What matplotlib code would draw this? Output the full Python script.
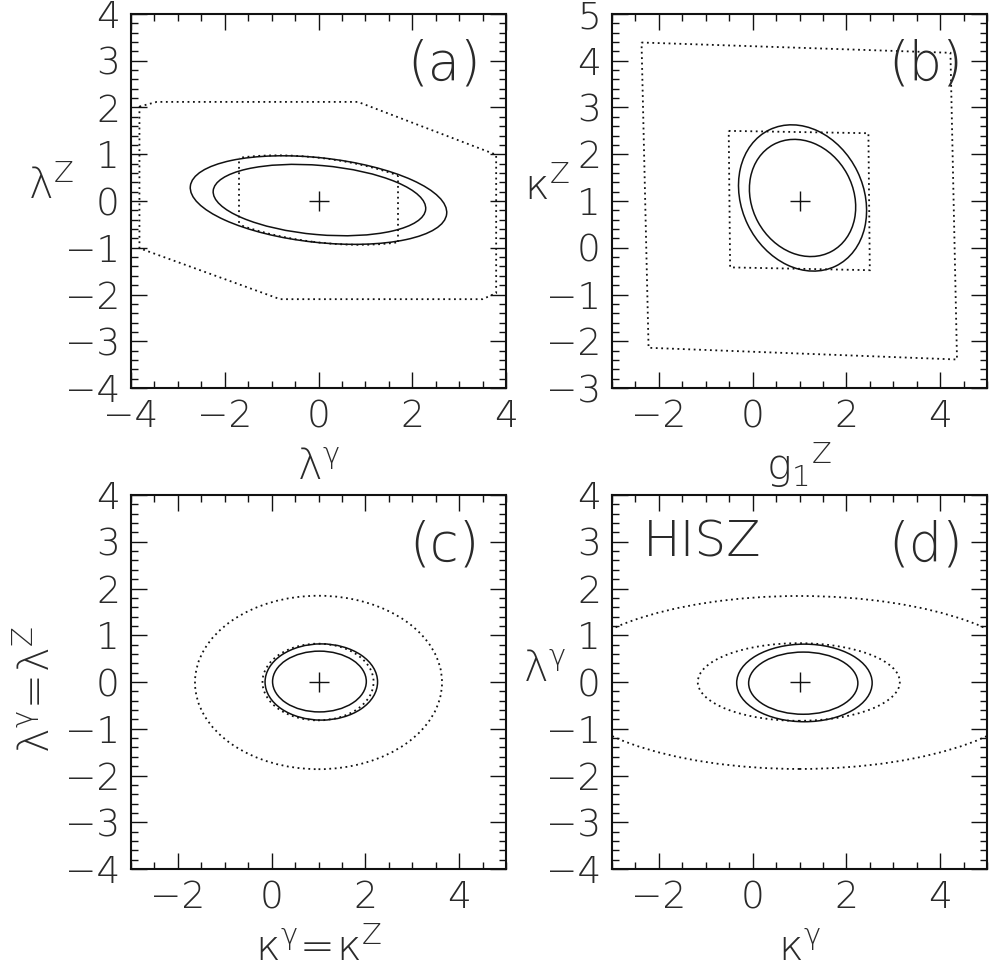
#!/usr/bin/env python3
"""Four-panel contour plot of anomalous coupling limits, panels (a)-(d)."""

import matplotlib

matplotlib.use("Agg")
import matplotlib.pyplot as plt
from matplotlib.patches import Ellipse, Polygon, Rectangle
from matplotlib.ticker import MultipleLocator

plt.rcParams["font.family"] = ["DejaVu Sans"]
plt.rcParams["font.weight"] = 200
plt.rcParams["mathtext.fontset"] = "custom"
plt.rcParams["mathtext.rm"] = "DejaVu Sans:ultralight"
plt.rcParams["mathtext.it"] = "DejaVu Sans:ultralight"
plt.rcParams["mathtext.sf"] = "DejaVu Sans:ultralight"

# axis ranges per panel
panel_names = ["(a)", "(b)", "(c)", "(d)"]
x_limits = [(-4, 4), (-3, 5), (-3, 5), (-3, 5)]
y_limits = [(-4, 4), (-3, 5), (-4, 4), (-4, 4)]
x_labels = [r"$\mathrm{\lambda^{\gamma}}$", r"$\mathrm{g_1{}^{Z}}$",
            r"$\mathrm{\kappa^{\gamma}\!=\!\kappa^{Z}}$", r"$\mathrm{\kappa^{\gamma}}$"]
y_labels = [r"$\mathrm{\lambda^{Z}}$", r"$\mathrm{\kappa^{Z}}$",
            r"$\mathrm{\lambda^{\gamma}\!=\!\lambda^{Z}}$", r"$\mathrm{\lambda^{\gamma}}$"]

# best-fit points
best_x = [0.0, 1.0, 1.0, 1.0]
best_y = [0.0, 1.0, 0.0, 0.0]

# solid contours: (cx, cy, width, height, angle)
solid_a = [(0.0, 0.02, 5.50, 1.81, -6.2), (0.02, 0.02, 4.55, 1.48, -5.0)]
solid_b = [(1.065, 1.065, 2.60, 3.24, 25.8), (1.065, 1.065, 2.16, 2.60, 28.5)]
solid_c = [(1.06, 0.0, 2.40, 1.63, 0.0), (1.02, 0.01, 2.00, 1.30, 0.0)]
solid_d = [(1.105, -0.02, 2.89, 1.66, 0.0), (1.08, -0.025, 2.33, 1.33, 0.0)]

# dotted contours
dotted_c = [(0.99, 0.0, 2.37, 1.64, 0.0), (1.0, -0.01, 5.27, 3.71, 0.0)]
dotted_d = [(0.985, 0.0, 4.31, 1.66, 0.0), (1.0, -0.01, 10.2, 3.70, 0.0)]

# panel (a): inner dotted region = ellipse cut at the lambda^gamma limits
dotted_a_ellipse = (0.0, 0.02, 5.55, 1.80, -7.1)
dotted_a_cut = (-1.70, 1.69)
# panel (a): outer dotted region
outer_a_x = [-3.82, -3.45, 0.84, 3.79, 3.79, 3.50, -0.82, -3.82]
outer_a_y = [2.02, 2.12, 2.12, 0.99, -1.97, -2.10, -2.10, -1.01]
# panel (b): dotted boxes
outer_b_x = [-2.37, 4.22, 4.36, -2.22]
outer_b_y = [4.39, 4.17, -2.39, -2.14]
inner_b_x = [-0.51, 2.47, 2.50, -0.48]
inner_b_y = [2.50, 2.45, -0.48, -0.42]

DOT = (0, (1.0, 2.0))
INK = "#111111"
TXT = "#2a2a2a"

fig = plt.figure(figsize=(9.9, 9.72), dpi=100)
W, H = 990.0, 972.0
boxes = [(131, 14), (612, 14), (131, 495), (612, 495)]
axes = []
for (left, top) in boxes:
    ax = fig.add_axes([left / W, 1 - (top + 374) / H, 375 / W, 374 / H])
    axes.append(ax)


def add_ell(ax, e, dotted=False):
    cx, cy, w, h, ang = e
    p = Ellipse((cx, cy), w, h, angle=ang, fill=False, color=INK,
                lw=1.3 if dotted else 1.1, ls=DOT if dotted else "-")
    ax.add_patch(p)
    return p


def add_poly(ax, xs, ys):
    p = Polygon(list(zip(xs, ys)), closed=True, fill=False, color=INK, lw=1.3, ls=DOT)
    ax.add_patch(p)
    return p


for i, ax in enumerate(axes):
    ax.set_xlim(*x_limits[i])
    ax.set_ylim(*y_limits[i])
    ax.xaxis.set_major_locator(MultipleLocator(2))
    ax.xaxis.set_minor_locator(MultipleLocator(0.5))
    ax.yaxis.set_major_locator(MultipleLocator(1))
    ax.yaxis.set_minor_locator(MultipleLocator(0.2))
    ax.tick_params(which="both", direction="in", top=True, right=True,
                   width=1.0, color=INK)
    ax.tick_params(which="major", length=11.5, labelsize=27, labelcolor=TXT, pad=8)
    ax.tick_params(which="minor", length=5)
    for s in ax.spines.values():
        s.set_linewidth(1.5)
        s.set_color(INK)
    ax.plot(best_x[i], best_y[i], marker="+", ms=15, mew=1.0, color=INK)
    ax.text(0.835, 0.865, panel_names[i], transform=ax.transAxes, fontsize=38,
            ha="center", va="center", color=TXT)

    ax.set_xlabel(x_labels[i], fontsize=30, color=TXT, va="baseline", ha="center")
    ax.xaxis.set_label_coords(0.5, -0.245)

# y labels (horizontal except panel c)
ylab_pos = [(-0.213, 0.505), (-0.173, 0.503), (-0.216, 0.479), (-0.179, 0.500)]
for i, ax in enumerate(axes):
    rot = 90 if i == 2 else 0
    ax.set_ylabel(y_labels[i], fontsize=30, color=TXT, rotation=rot,
                  rotation_mode="anchor", ha="center", va="baseline")
    ax.yaxis.set_label_coords(*ylab_pos[i])

# panel (a)
ax = axes[0]
for e in solid_a:
    add_ell(ax, e)
ell = add_ell(ax, dotted_a_ellipse, dotted=True)
cut = Rectangle((dotted_a_cut[0], -5), dotted_a_cut[1] - dotted_a_cut[0], 10,
                fill=False, color=INK, lw=1.3, ls=DOT)
ax.add_patch(cut)
ell.set_clip_path(cut)
cut.set_clip_path(ell)
add_poly(ax, outer_a_x, outer_a_y)

# panel (b)
ax = axes[1]
for e in solid_b:
    add_ell(ax, e)
add_poly(ax, outer_b_x, outer_b_y)
add_poly(ax, inner_b_x, inner_b_y)

# panel (c)
ax = axes[2]
for e in solid_c:
    add_ell(ax, e)
for e in dotted_c:
    add_ell(ax, e, dotted=True)

# panel (d)
ax = axes[3]
for e in solid_d:
    add_ell(ax, e)
for e in dotted_d:
    add_ell(ax, e, dotted=True)
ax.text(0.083, 0.872, "HISZ", transform=ax.transAxes, fontsize=36,
        ha="left", va="center", color=TXT)

fig.savefig("out.png", dpi=100)
